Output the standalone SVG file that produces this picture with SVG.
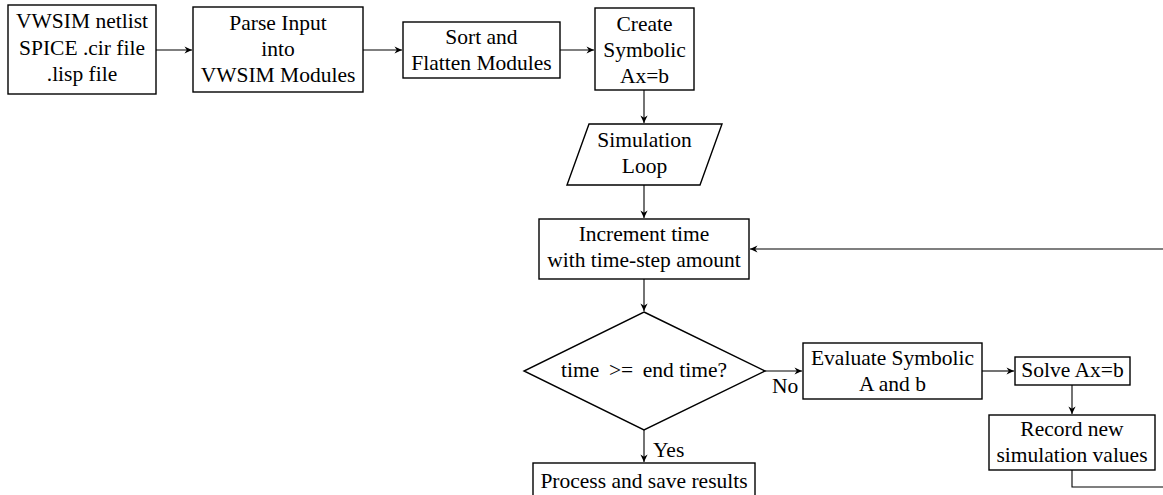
<svg xmlns="http://www.w3.org/2000/svg" width="1163" height="495" viewBox="0 0 1163 495">
<style>
.n{fill:#fff;stroke:#000;stroke-width:1.4}
.t{font-family:"Liberation Serif","Times New Roman",serif;font-size:21.5px;fill:#000;text-anchor:middle}
.l{font-family:"Liberation Serif","Times New Roman",serif;font-size:21.5px;fill:#000}
.c{fill:none;stroke:#000;stroke-width:1.1}
</style>
<defs>
<marker id="ah" markerUnits="userSpaceOnUse" markerWidth="10" markerHeight="10" viewBox="-8 -5 9 10" refX="0" refY="0" orient="auto">
<path d="M0,0 L-7.5,-3.6 L-5.2,0 L-7.5,3.6 Z" fill="#000"/>
</marker>
</defs>
<rect width="1163" height="495" fill="#fff"/>
<g id="connectors">
<line class="c" x1="156" y1="50" x2="192" y2="50" marker-end="url(#ah)"/>
<line class="c" x1="363" y1="50" x2="402" y2="50" marker-end="url(#ah)"/>
<line class="c" x1="560" y1="50" x2="594" y2="50" marker-end="url(#ah)"/>
<line class="c" x1="644" y1="90" x2="644" y2="123" marker-end="url(#ah)"/>
<line class="c" x1="644" y1="185" x2="644" y2="218" marker-end="url(#ah)"/>
<line class="c" x1="1163" y1="249" x2="750" y2="249" marker-end="url(#ah)"/>
<line class="c" x1="644" y1="279" x2="644" y2="311" marker-end="url(#ah)"/>
<line class="c" x1="765" y1="371" x2="802" y2="371" marker-end="url(#ah)"/>
<line class="c" x1="644" y1="430" x2="644" y2="462" marker-end="url(#ah)"/>
<line class="c" x1="982" y1="371" x2="1014" y2="371" marker-end="url(#ah)"/>
<line class="c" x1="1072" y1="385" x2="1072" y2="414" marker-end="url(#ah)"/>
<polyline class="c" points="1072,470 1072,487 1163,487"/>
<text class="l" x="772" y="393">No</text>
<text class="l" x="653" y="457">Yes</text>
</g>
<g id="input">
<rect class="n" x="8" y="5" width="148" height="89"/>
<text class="t" x="82" y="28">VWSIM netlist</text>
<text class="t" x="82" y="55">SPICE .cir file</text>
<text class="t" x="82" y="81">.lisp file</text>
</g>
<g id="parse">
<rect class="n" x="193" y="7" width="170" height="85"/>
<text class="t" x="278" y="30">Parse Input</text>
<text class="t" x="278" y="56">into</text>
<text class="t" x="278" y="82">VWSIM Modules</text>
</g>
<g id="sort">
<rect class="n" x="403" y="22" width="157" height="56"/>
<text class="t" x="481.5" y="44">Sort and</text>
<text class="t" x="481.5" y="70">Flatten Modules</text>
</g>
<g id="create">
<rect class="n" x="595" y="8" width="99" height="82"/>
<text class="t" x="644.5" y="31">Create</text>
<text class="t" x="644.5" y="57">Symbolic</text>
<text class="t" x="644.5" y="83">Ax=b</text>
</g>
<g id="loop">
<polygon class="n" points="589,124 722,124 700,185 567,185"/>
<text class="t" x="644.5" y="147">Simulation</text>
<text class="t" x="644.5" y="173">Loop</text>
</g>
<g id="increment">
<rect class="n" x="539" y="219" width="210" height="60"/>
<text class="t" x="644" y="241">Increment time</text>
<text class="t" x="644" y="267">with time-step amount</text>
</g>
<g id="decision">
<polygon class="n" points="644,312 765,371 644,430 524,371"/>
<text class="t" x="644" y="377">time&#8201; &gt;= &#8201;end time?</text>
</g>
<g id="evaluate">
<rect class="n" x="803" y="343" width="179" height="56"/>
<text class="t" x="892.5" y="365">Evaluate Symbolic</text>
<text class="t" x="892.5" y="391">A and b</text>
</g>
<g id="solve">
<rect class="n" x="1015" y="357" width="115" height="28"/>
<text class="t" x="1072.5" y="377">Solve Ax=b</text>
</g>
<g id="record">
<rect class="n" x="989" y="415" width="166" height="55"/>
<text class="t" x="1072" y="436">Record new</text>
<text class="t" x="1072" y="462">simulation values</text>
</g>
<g id="process">
<rect class="n" x="533" y="463" width="222" height="40"/>
<text class="t" x="644" y="488">Process and save results</text>
</g>
</svg>
